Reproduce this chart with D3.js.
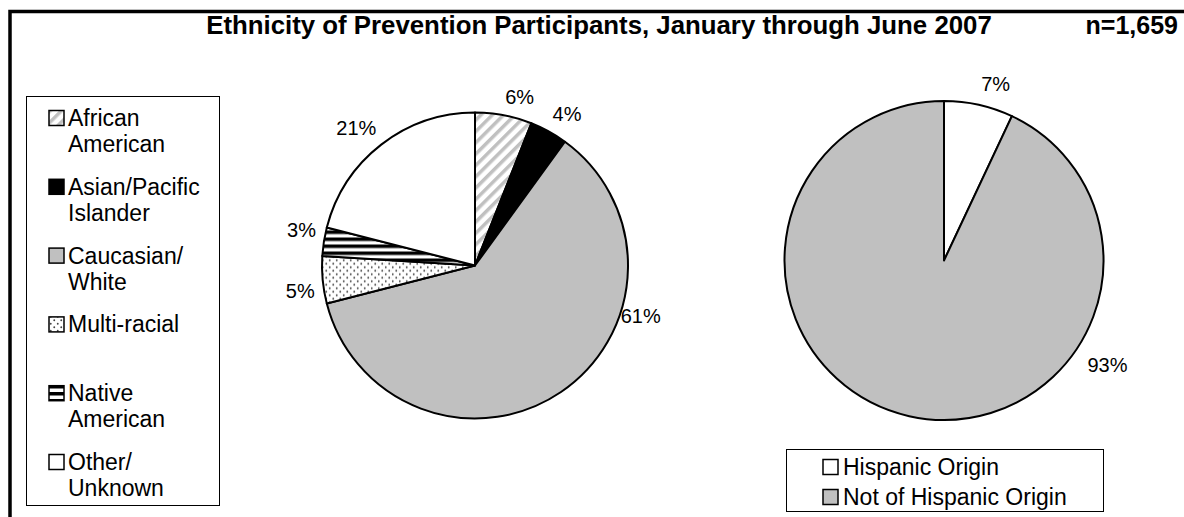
<!DOCTYPE html>
<html><head><meta charset="utf-8">
<script src="https://cdn.jsdelivr.net/npm/d3@7"></script>
<style>
html,body{margin:0;padding:0;background:#fff;}
text{font-family:Arial,"Liberation Sans",sans-serif;fill:#000;}
</style></head>
<body><svg id="c" width="1184" height="517"></svg>
<script>
// ---- data ----
const ethnicCategories = ["African American","Asian/Pacific Islander","Caucasian/ White","Multi-racial","Native American","Other/ Unknown"];
const ethnicLegendLines = [["African","American"],["Asian/Pacific","Islander"],["Caucasian/","White"],["Multi-racial"],["Native","American"],["Other/","Unknown"]];
const ethnicValues = [6,4,61,5,3,21];
const hispanicCategories = ["Hispanic Origin","Not of Hispanic Origin"];
const hispanicValues = [7,93];
const titleText = "Ethnicity of Prevention Participants, January through June 2007";
const nText = "n=1,659";

// ---- styling / layout ----
const W=1184,H=517;
const svg=d3.select("#c");
const defs=svg.append("defs");
const ph=defs.append("pattern").attr("id","hatch").attr("patternUnits","userSpaceOnUse")
  .attr("width",8).attr("height",8).attr("patternTransform","rotate(45)");
ph.append("rect").attr("width",8).attr("height",8).attr("fill","#fff");
ph.append("rect").attr("width",3.5).attr("height",8).attr("fill","#c0c0c0");
const pd=defs.append("pattern").attr("id","dots").attr("patternUnits","userSpaceOnUse")
  .attr("width",7).attr("height",7);
pd.append("rect").attr("width",7).attr("height",7).attr("fill","#fff");
pd.append("circle").attr("cx",1.75).attr("cy",1.75).attr("r",0.95).attr("fill","#444");
pd.append("circle").attr("cx",5.25).attr("cy",5.25).attr("r",0.95).attr("fill","#444");
const ps=defs.append("pattern").attr("id","hstripe").attr("patternUnits","userSpaceOnUse")
  .attr("width",8).attr("height",7);
ps.append("rect").attr("width",8).attr("height",7).attr("fill","#fff");
ps.append("rect").attr("width",8).attr("height",3.5).attr("fill","#000");

const ethnicFill=d3.scaleOrdinal().domain(ethnicCategories)
  .range(["url(#hatch)","#000","#c0c0c0","url(#dots)","url(#hstripe)","#fff"]);
const hispFill=d3.scaleOrdinal().domain(hispanicCategories).range(["#fff","#c0c0c0"]);

// frame
svg.append("path").attr("d",`M10,${H+5} L10,11.5 L${W+5},11.5`).attr("fill","none")
  .attr("stroke","#000").attr("stroke-width",3.5);

// title
svg.append("text").attr("x",599).attr("y",34).attr("text-anchor","middle")
  .attr("font-size",25.8).attr("font-weight","bold").text(titleText);
svg.append("text").attr("x",1178).attr("y",34).attr("text-anchor","end")
  .attr("font-size",25).attr("font-weight","bold").text(nText);

const pie=d3.pie().sort(null).value(d=>d.v);
const toRad=Math.PI/180;

function drawPie(cx,cy,r,gap,cats,vals,fill,labelOverride){
  const g=svg.append("g").attr("transform",`translate(${cx},${cy})`);
  const arcs=pie(cats.map((c,i)=>({c,v:vals[i]})));
  const arc=d3.arc().innerRadius(0).outerRadius(r);
  g.selectAll("path.s").data(arcs).join("path").attr("class","s")
    .attr("d",arc).attr("fill",d=>fill(d.data.c))
    .attr("stroke","#000").attr("stroke-width",2).attr("stroke-linejoin","round");
  const fs=20;
  g.selectAll("text.l").data(arcs).join("text").attr("class","l")
    .attr("font-size",fs).attr("text-anchor","middle").attr("dominant-baseline","central")
    .text(d=>d.data.v+"%")
    .each(function(d){
      const o=labelOverride[d.data.c];
      const w=this.getComputedTextLength(), h=fs;
      let x,y;
      if(o){
        const a=o.angle*toRad;
        const dist=r+o.gap+Math.abs(Math.sin(a))*w/2+Math.abs(Math.cos(a))*h/2;
        x=Math.sin(a)*dist; y=-Math.cos(a)*dist;
      } else {
        // outside-end: nearest box corner sits on the ray just outside the rim
        const a=(d.startAngle+d.endAngle)/2;
        const px=Math.sin(a)*(r+gap), py=-Math.cos(a)*(r+gap);
        x=px+Math.sign(Math.sin(a))*w/2; y=py-Math.sign(Math.cos(a))*h/2;
      }
      d3.select(this).attr("x",x).attr("y",y);
    });
}
drawPie(475,265.5,153,8,ethnicCategories,ethnicValues,ethnicFill,{"Caucasian/ White":{angle:106.8,gap:-2}});
drawPie(944,260.5,159.5,11,hispanicCategories,hispanicValues,hispFill,{"Not of Hispanic Origin":{angle:122.5,gap:12}});

// legend 1
svg.append("rect").attr("x",26.5).attr("y",96.5).attr("width",193).attr("height",409)
  .attr("fill","none").attr("stroke","#000").attr("stroke-width",1);
const ly=d3.scalePoint().domain(ethnicCategories).range([118,462]);
const lg=svg.append("g");
ethnicCategories.forEach((c,i)=>{
  const y=ly(c);
  lg.append("rect").attr("x",49).attr("y",y-7.5).attr("width",15).attr("height",15)
    .attr("fill",ethnicFill(c)).attr("stroke","#000").attr("stroke-width",1.5);
  const t=lg.append("text").attr("x",68).attr("y",y).attr("font-size",23).attr("dominant-baseline","central");
  ethnicLegendLines[i].forEach((ln,j)=>{
    t.append("tspan").attr("x",68).attr("dy",j===0?0:26).text(ln);
  });
});
// legend 2
svg.append("rect").attr("x",786.5).attr("y",449.5).attr("width",317).attr("height",62)
  .attr("fill","#fff").attr("stroke","#000").attr("stroke-width",1);
const ly2=d3.scalePoint().domain(hispanicCategories).range([467,497]);
hispanicCategories.forEach(c=>{
  const y=ly2(c);
  svg.append("rect").attr("x",823).attr("y",y-7.5).attr("width",15).attr("height",15)
    .attr("fill",hispFill(c)).attr("stroke","#000").attr("stroke-width",1.5);
  svg.append("text").attr("x",843).attr("y",y).attr("font-size",23).attr("dominant-baseline","central").text(c);
});
</script></body></html>
